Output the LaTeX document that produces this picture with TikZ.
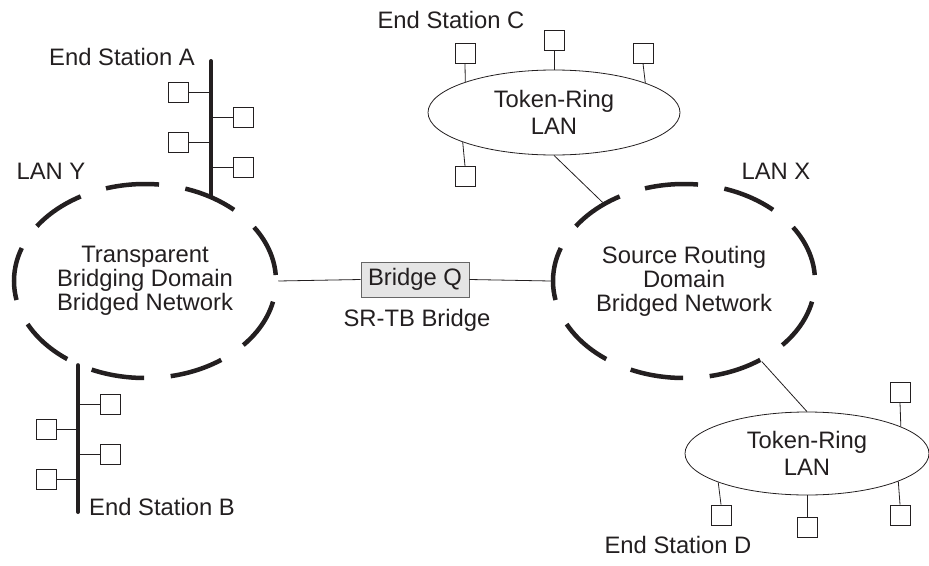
\documentclass[tikz,border=0pt]{standalone}
\usepackage{fontspec}
\setmainfont{Liberation Sans}
\usetikzlibrary{shapes.geometric}
\definecolor{ink}{HTML}{231F20}
\begin{document}
\begin{tikzpicture}[x=1pt,y=-1pt,
  every node/.style={font=\fontsize{23.8}{24}\selectfont, text=ink},
  bigring/.style={ellipse, draw=ink, line width=4.5pt, dash pattern=on 53.4pt off 26.6pt, dash phase=74pt,
    minimum width=262pt, minimum height=194pt, align=center, inner sep=0pt},
  tring/.style={ellipse, draw=ink, line width=0.8pt, align=center, inner sep=0pt,
    font=\fontsize{23.8}{27}\selectfont},
  sbox/.style={rectangle, draw=ink, line width=0.9pt, minimum size=20pt, inner sep=0pt, fill=white},
  bridgebox/.style={rectangle, draw=black!60, fill=black!10, line width=0.8pt,
    minimum width=108pt, minimum height=35pt, inner sep=0pt},
  bus/.style={line width=4pt, line cap=round, draw=ink},
  thinline/.style={line width=0.8pt, draw=ink}
]
\useasboundingbox (0,0) rectangle (929,565);

% big dashed domains
\node[bigring] (lanY) at (145,281) {Transparent\\Bridging Domain\\Bridged Network};
\node[bigring] (lanX) at (684,281) {Source Routing\\Domain\\Bridged Network};

% token rings
\node[tring, minimum width=252pt, minimum height=85pt] (trC) at (554,112.5) {Token-Ring\\LAN};
\node[tring, minimum width=244pt, minimum height=83pt] (trD) at (807,453.5) {Token-Ring\\LAN};

% bridge
\node[bridgebox] (bq) at (415,279.5) {Bridge Q};
\draw[thinline] (lanY.east) -- (bq.west);
\draw[thinline] (bq.east) -- (lanX.west);

% bus A
\coordinate (aTop) at (211,61);
\draw[bus] (aTop) -- (aTop |- lanY.51.5);
\node[sbox] (a1) at (178.5,92.5) {};
\node[sbox] (a2) at (243,117) {};
\node[sbox] (a3) at (178.5,142.5) {};
\node[sbox] (a4) at (243,167) {};
\draw[thinline] (a1.east) -- (a1.east -| aTop);
\draw[thinline] (a2.west) -- (a2.west -| aTop);
\draw[thinline] (a3.east) -- (a3.east -| aTop);
\draw[thinline] (a4.west) -- (a4.west -| aTop);

% bus B
\coordinate (bBot) at (78,512);
\draw[bus] (bBot |- lanY.230.9) -- (bBot);
\node[sbox] (b1) at (110,404) {};
\node[sbox] (b2) at (46,429) {};
\node[sbox] (b3) at (110,454) {};
\node[sbox] (b4) at (46,479) {};
\draw[thinline] (b1.west) -- (b1.west -| bBot);
\draw[thinline] (b2.east) -- (b2.east -| bBot);
\draw[thinline] (b3.west) -- (b3.west -| bBot);
\draw[thinline] (b4.east) -- (b4.east -| bBot);

% stations C
\node[sbox] (c1) at (465,53) {};
\node[sbox] (c2) at (554,40.5) {};
\node[sbox] (c3) at (643,53) {};
\node[sbox] (c4) at (465,176.5) {};
\draw[thinline] (c1.south) -- (trC.161.3);
\draw[thinline] (c2.south) -- (trC.north);
\draw[thinline] (c3.south) -- (trC.18.7);
\draw[thinline] (c4.north) -- (trC.198.7);

% stations D
\node[sbox] (d1) at (900,392) {};
\node[sbox] (d2) at (721,515) {};
\node[sbox] (d3) at (807,527) {};
\node[sbox] (d4) at (900,515) {};
\draw[thinline] (d1.south) -- (trD.16.1);
\draw[thinline] (d2.north) -- (trD.198.9);
\draw[thinline] (d3.north) -- (trD.south);
\draw[thinline] (d4.north) -- (trD.343.9);

% ring connectors
\draw[thinline] (trC.south) -- (lanX.136);
\draw[thinline] (lanX.-46.9) -- (trD.north);

% labels
\node (lblA) at (122,57) {End Station A};
\node (lblY) at (51,171) {LAN Y};
\node (lblB) at (162,507) {End Station B};
\node (lblC) at (451,20) {End Station C};
\node (lblX) at (776,171) {LAN X};
\node (lblD) at (678,545) {End Station D};
\node (lblSR) at (417,320) {SR-TB Bridge};
\end{tikzpicture}
\end{document}
